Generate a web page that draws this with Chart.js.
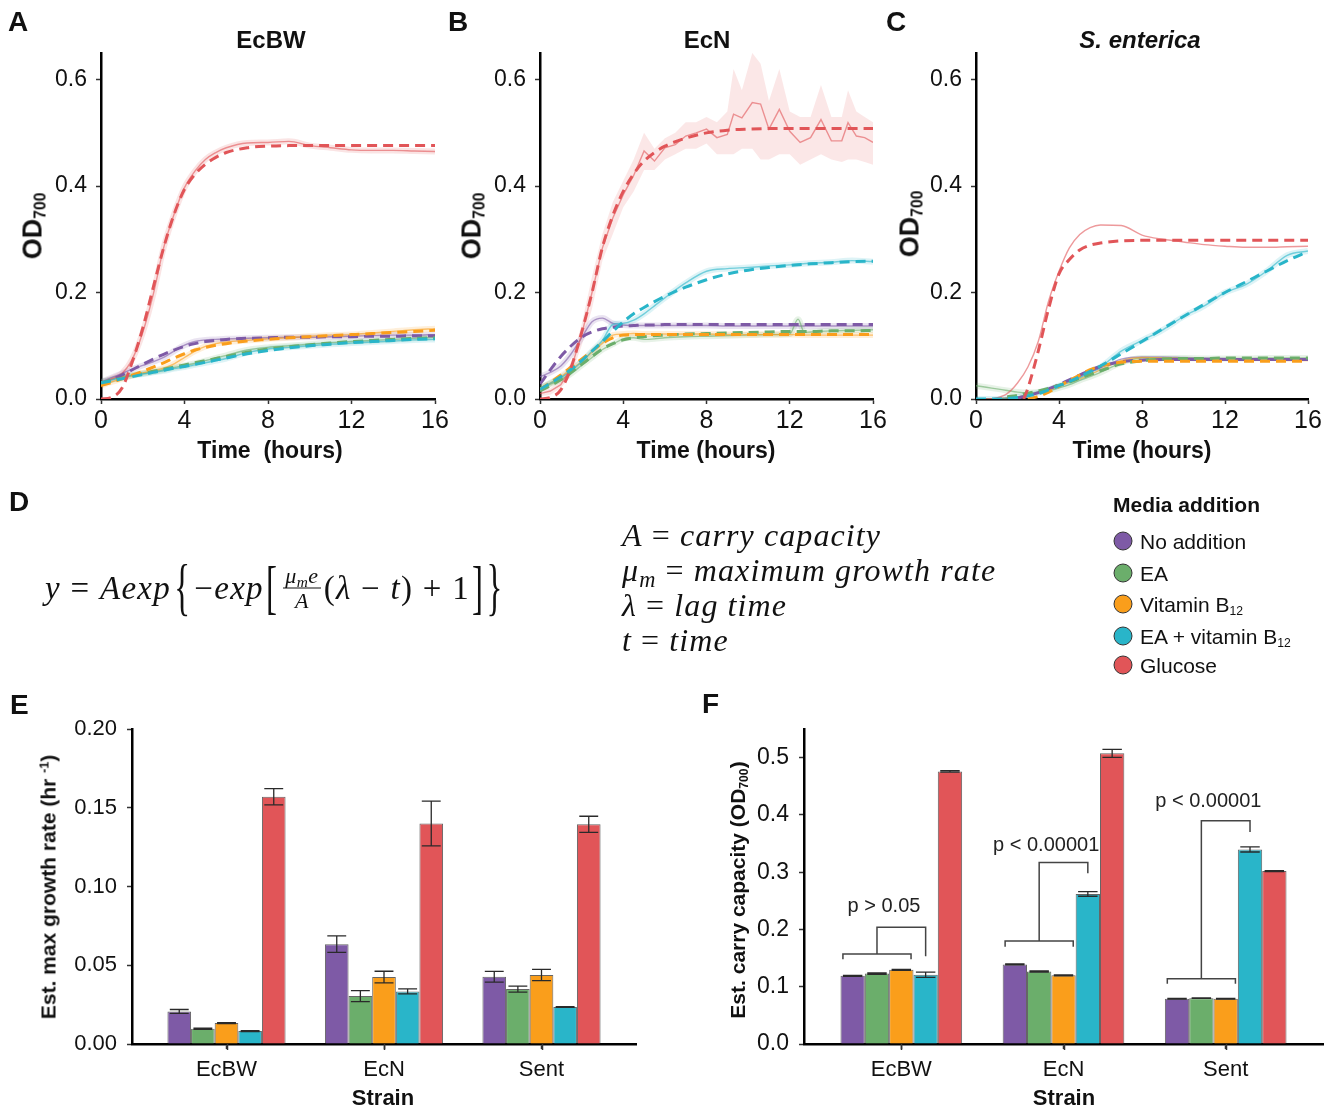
<!DOCTYPE html>
<html>
<head>
<meta charset="utf-8">
<script src="https://cdn.jsdelivr.net/npm/chart.js@4.4.1/dist/chart.umd.min.js"></script>
<style>
  html, body { margin: 0; padding: 0; background: #fff; }
  #page { position: relative; width: 1340px; height: 1110px; overflow: hidden;
          font-family: 'Liberation Sans', Arial, sans-serif; color: #111; }
  canvas.layer { position: absolute; left: 0; top: 0; }
  .t { position: absolute; line-height: 1; white-space: pre; transform: translate(-50%, -50%); }
  .l { position: absolute; line-height: 1; white-space: pre; transform: translate(0, -50%); }
  .rot { position: absolute; line-height: 1; white-space: pre; transform: translate(-50%, -50%) rotate(-90deg); }
  .b { font-weight: bold; }
  .letter { font-weight: bold; font-size: 28px; }
  .sub { font-size: 0.58em; position: relative; top: 0.28em; }
  .sup { font-size: 0.6em; position: relative; top: -0.55em; }
  .dot { position: absolute; width: 17px; height: 17px; border-radius: 50%; border: 1.5px solid #333;
         transform: translate(-50%, -50%); }
  .math { position: absolute; line-height: 1; white-space: pre; font-family: 'Liberation Serif', serif;
          font-size: 32px; transform: translate(0, -50%); letter-spacing: 1.1px; }
  .math i { font-style: italic; }
  #eq { display: flex; align-items: center; font-size: 33px; letter-spacing: 1.3px; }
  .br { display: inline-block; font-style: normal; }
  .frac { display: inline-flex; flex-direction: column; align-items: center; font-size: 22px; margin: 0 3px; letter-spacing: 0.5px; }
  .frac .num { border-bottom: 1.2px solid #111; padding: 0 2px 1px; }
  .frac .den { padding-top: 1px; }
</style>
</head>
<body>
<div id="page">
  <canvas id="chartA" class="layer" width="1340" height="1110"></canvas>
  <canvas id="chartB" class="layer" width="1340" height="1110"></canvas>
  <canvas id="chartC" class="layer" width="1340" height="1110"></canvas>
  <canvas id="chartE" class="layer" width="1340" height="1110"></canvas>
  <canvas id="chartF" class="layer" width="1340" height="1110"></canvas>

  <!-- panel letters -->
  <div class="l letter" style="left:8px;top:22px">A</div>
  <div class="l letter" style="left:448px;top:22px">B</div>
  <div class="l letter" style="left:886px;top:22px">C</div>
  <div class="l letter" style="left:9px;top:502px">D</div>
  <div class="l letter" style="left:10px;top:705px">E</div>
  <div class="l letter" style="left:702px;top:704px">F</div>

  <!-- growth curve titles -->
  <div class="t b" style="left:271px;top:40px;font-size:24px">EcBW</div>
  <div class="t b" style="left:707px;top:40px;font-size:24px">EcN</div>
  <div class="t b" style="left:1140px;top:40px;font-size:24px;font-style:italic">S. enterica</div>

  <div class="t b" style="left:270px;top:450px;font-size:23px">Time  (hours)</div>
  <div class="t b" style="left:706px;top:450px;font-size:23px">Time (hours)</div>
  <div class="t b" style="left:1142px;top:450px;font-size:23px">Time (hours)</div>

  <div class="rot b" style="left:33px;top:226px;font-size:27px">OD<span class="sub">700</span></div>
  <div class="rot b" style="left:472px;top:226px;font-size:27px">OD<span class="sub">700</span></div>
  <div class="rot b" style="left:910px;top:224px;font-size:27px">OD<span class="sub">700</span></div>

  <!-- D: model -->
  <div id="eq" class="math" style="left:45px;top:588px">
    <i>y</i><span> = </span><i>Aexp</i><span class="br" style="transform:scaleY(1.9);margin:0 3px">{</span><span>−</span><i>exp</i><span class="br" style="transform:scaleY(1.8);margin:0 2px">[</span><span class="frac"><span class="num"><i>μ<span style="font-size:0.7em;position:relative;top:0.25em">m</span>e</i></span><span class="den"><i>A</i></span></span><span>(</span><i>λ</i><span> − </span><i>t</i><span>) + 1</span><span class="br" style="transform:scaleY(1.8);margin:0 2px">]</span><span class="br" style="transform:scaleY(1.9)">}</span>
  </div>
  <div class="math" style="left:622px;top:535px"><i>A</i> = <i>carry capacity</i></div>
  <div class="math" style="left:622px;top:570px"><i>μ<span style="font-size:0.7em;position:relative;top:0.25em">m</span></i> = <i>maximum growth rate</i></div>
  <div class="math" style="left:622px;top:605px"><i>λ</i> = <i>lag time</i></div>
  <div class="math" style="left:622px;top:640px"><i>t</i> = <i>time</i></div>

  <!-- legend -->
  <div class="l b" style="left:1113px;top:504px;font-size:21px">Media addition</div>
  <div id="legend"></div>

  <!-- bar chart axis titles -->
  <div class="t b" style="left:383px;top:1098px;font-size:22px">Strain</div>
  <div class="t b" style="left:1064px;top:1098px;font-size:22px">Strain</div>
  <div class="rot b" style="left:48px;top:887px;font-size:21px">Est. max growth rate (hr <span class="sup">-1</span>)</div>
  <div class="rot b" style="left:737px;top:890px;font-size:21px">Est. carry capacity (OD<span class="sub">700</span>)</div>
</div>

<script>
var FONT = 'Liberation Sans';

// media additions, legend order
var mediaNames = ['No addition', 'EA', 'Vitamin B<span class="sub">12</span>', 'EA + vitamin B<span class="sub">12</span>', 'Glucose'];
var mediaColors = ['#7E5AA6', '#6BAE6B', '#FA9E1B', '#29B5C9', '#E15558'];
var strains = ['EcBW', 'EcN', 'Sent'];

// common time grid (hours)
var T = [0, 0.5, 1, 1.5, 2, 2.5, 3, 3.5, 4, 4.5, 5, 5.5, 6, 7, 8, 9, 10, 11, 12, 13, 14, 15, 16];

// ---- A: EcBW (measured / fitted)
var aNoAdd    = [0.032, 0.04, 0.048, 0.056, 0.063, 0.07, 0.078, 0.09, 0.101, 0.108, 0.111, 0.112, 0.113, 0.114, 0.115, 0.116, 0.116, 0.117, 0.118, 0.119, 0.12, 0.12, 0.121];
var aNoAddFit = [0.028, 0.036, 0.045, 0.055, 0.065, 0.075, 0.084, 0.092, 0.099, 0.104, 0.108, 0.11, 0.112, 0.114, 0.115, 0.116, 0.116, 0.117, 0.117, 0.118, 0.118, 0.119, 0.119];
var aEA       = [0.032, 0.037, 0.042, 0.045, 0.048, 0.051, 0.055, 0.059, 0.063, 0.067, 0.072, 0.077, 0.082, 0.092, 0.097, 0.1, 0.103, 0.106, 0.108, 0.11, 0.112, 0.114, 0.116];
var aEAFit    = [0.03, 0.035, 0.039, 0.044, 0.048, 0.052, 0.056, 0.06, 0.064, 0.068, 0.072, 0.076, 0.08, 0.088, 0.094, 0.098, 0.102, 0.105, 0.108, 0.11, 0.112, 0.114, 0.115];
var aB12      = [0.025, 0.032, 0.038, 0.044, 0.049, 0.053, 0.058, 0.066, 0.078, 0.09, 0.099, 0.104, 0.107, 0.11, 0.113, 0.115, 0.118, 0.12, 0.121, 0.124, 0.127, 0.13, 0.132];
var aB12Fit   = [0.025, 0.031, 0.038, 0.045, 0.052, 0.06, 0.068, 0.077, 0.085, 0.092, 0.097, 0.101, 0.104, 0.109, 0.112, 0.115, 0.117, 0.119, 0.121, 0.123, 0.125, 0.127, 0.129];
var aEAB12    = [0.032, 0.036, 0.04, 0.044, 0.047, 0.05, 0.053, 0.057, 0.06, 0.064, 0.068, 0.072, 0.076, 0.087, 0.094, 0.097, 0.1, 0.103, 0.105, 0.107, 0.109, 0.111, 0.112];
var aEAB12Fit = [0.03, 0.034, 0.038, 0.042, 0.046, 0.05, 0.054, 0.058, 0.061, 0.065, 0.069, 0.073, 0.077, 0.085, 0.091, 0.096, 0.1, 0.103, 0.106, 0.108, 0.11, 0.112, 0.113];
var aGlu      = [0.03, 0.038, 0.048, 0.075, 0.125, 0.196, 0.284, 0.347, 0.397, 0.428, 0.45, 0.463, 0.472, 0.481, 0.482, 0.484, 0.476, 0.472, 0.468, 0.467, 0.467, 0.466, 0.465];
var aGluFit   = [0, 0.003, 0.02, 0.07, 0.133, 0.209, 0.284, 0.347, 0.394, 0.422, 0.441, 0.454, 0.463, 0.472, 0.475, 0.476, 0.476, 0.476, 0.476, 0.476, 0.476, 0.476, 0.476];

// ---- B: EcN
var bNoAdd    = [0.042, 0.05, 0.062, 0.085, 0.115, 0.145, 0.152, 0.142, 0.139, 0.138, 0.138, 0.138, 0.138, 0.138, 0.138, 0.137, 0.137, 0.137, 0.137, 0.137, 0.137, 0.137, 0.137];
var bNoAddFit = [0.028, 0.055, 0.08, 0.1, 0.116, 0.126, 0.132, 0.135, 0.137, 0.138, 0.139, 0.139, 0.14, 0.14, 0.14, 0.14, 0.14, 0.14, 0.14, 0.14, 0.14, 0.14, 0.14];
var tBEA      = [0, 0.5, 1, 1.5, 2, 2.5, 3, 3.5, 4, 4.5, 5, 5.5, 6, 7, 8, 9, 10, 11, 12, 12.4, 12.7, 13, 14, 15, 16];
var bEA       = [0.02, 0.028, 0.036, 0.048, 0.063, 0.078, 0.093, 0.103, 0.113, 0.115, 0.112, 0.113, 0.115, 0.117, 0.118, 0.119, 0.12, 0.121, 0.122, 0.15, 0.125, 0.126, 0.128, 0.129, 0.13];
var bEAFit    = [0.015, 0.025, 0.036, 0.05, 0.065, 0.08, 0.094, 0.104, 0.111, 0.115, 0.117, 0.119, 0.12, 0.122, 0.123, 0.124, 0.125, 0.126, 0.127, 0.127, 0.128, 0.128, 0.129];
var bB12      = [0.02, 0.03, 0.042, 0.056, 0.07, 0.088, 0.105, 0.12, 0.122, 0.123, 0.122, 0.122, 0.122, 0.122, 0.122, 0.121, 0.121, 0.121, 0.121, 0.12, 0.12, 0.12, 0.12];
var bB12Fit   = [0.018, 0.031, 0.045, 0.06, 0.075, 0.09, 0.105, 0.115, 0.12, 0.121, 0.121, 0.121, 0.121, 0.121, 0.121, 0.121, 0.121, 0.121, 0.121, 0.121, 0.121, 0.121, 0.121];
var bEAB12    = [0.02, 0.03, 0.04, 0.053, 0.07, 0.09, 0.11, 0.14, 0.142, 0.148, 0.16, 0.175, 0.19, 0.218, 0.24, 0.245, 0.247, 0.25, 0.252, 0.255, 0.257, 0.26, 0.258];
var bEAB12Fit = [0.018, 0.03, 0.042, 0.056, 0.072, 0.09, 0.108, 0.127, 0.145, 0.16, 0.172, 0.183, 0.193, 0.21, 0.224, 0.235, 0.242, 0.247, 0.251, 0.254, 0.256, 0.258, 0.259];
var tBGlu     = [0, 0.5, 1, 1.5, 2, 2.5, 3, 3.5, 4, 4.5, 5, 5.5, 6, 6.5, 7, 7.5, 8, 8.5, 9, 9.3, 9.7, 10.2, 10.6, 11, 11.5, 12, 12.5, 13, 13.5, 14, 14.5, 14.8, 15.2, 15.6, 16];
var bGlu      = [0.01, 0.015, 0.027, 0.058, 0.121, 0.2, 0.284, 0.34, 0.384, 0.42, 0.466, 0.447, 0.472, 0.478, 0.494, 0.5, 0.507, 0.491, 0.497, 0.535, 0.528, 0.557, 0.554, 0.507, 0.544, 0.503, 0.482, 0.491, 0.525, 0.485, 0.485, 0.519, 0.494, 0.491, 0.482];
var bGluHigh  = [0.015, 0.02, 0.035, 0.07, 0.14, 0.23, 0.31, 0.37, 0.41, 0.45, 0.5, 0.47, 0.49, 0.5, 0.52, 0.52, 0.53, 0.52, 0.54, 0.62, 0.58, 0.65, 0.63, 0.56, 0.62, 0.54, 0.53, 0.53, 0.59, 0.53, 0.53, 0.58, 0.54, 0.53, 0.52];
var bGluLow   = [0.005, 0.008, 0.02, 0.045, 0.1, 0.17, 0.26, 0.31, 0.36, 0.39, 0.43, 0.43, 0.45, 0.46, 0.47, 0.47, 0.48, 0.46, 0.46, 0.46, 0.47, 0.47, 0.45, 0.45, 0.46, 0.46, 0.44, 0.45, 0.46, 0.45, 0.445, 0.45, 0.45, 0.445, 0.44];
var bGluFit   = [0, 0.003, 0.017, 0.06, 0.125, 0.2, 0.285, 0.345, 0.39, 0.423, 0.447, 0.463, 0.475, 0.49, 0.5, 0.505, 0.507, 0.508, 0.508, 0.508, 0.508, 0.508, 0.508];

// ---- C: S. enterica
var cNoAdd    = [0, 0, 0.001, 0.002, 0.004, 0.007, 0.012, 0.018, 0.026, 0.034, 0.042, 0.05, 0.058, 0.075, 0.079, 0.079, 0.078, 0.077, 0.076, 0.075, 0.075, 0.074, 0.074];
var cNoAddFit = [null, null, null, null, 0.002, 0.006, 0.012, 0.019, 0.027, 0.036, 0.045, 0.054, 0.061, 0.07, 0.073, 0.074, 0.074, 0.074, 0.074, 0.074, 0.074, 0.074, 0.074];
var cEA       = [0.025, 0.022, 0.019, 0.016, 0.013, 0.012, 0.013, 0.016, 0.021, 0.027, 0.035, 0.042, 0.05, 0.068, 0.077, 0.077, 0.077, 0.076, 0.076, 0.076, 0.077, 0.077, 0.077];
var cEAFit    = [null, null, null, 0.004, 0.007, 0.011, 0.015, 0.02, 0.026, 0.032, 0.039, 0.046, 0.053, 0.066, 0.072, 0.075, 0.076, 0.076, 0.077, 0.077, 0.077, 0.077, 0.077];
var cB12      = [0, 0, 0.001, 0.002, 0.004, 0.007, 0.012, 0.017, 0.024, 0.031, 0.038, 0.046, 0.055, 0.072, 0.078, 0.077, 0.076, 0.075, 0.074, 0.073, 0.073, 0.072, 0.072];
var cB12Fit   = [null, null, null, null, null, 0, 0.005, 0.013, 0.024, 0.035, 0.045, 0.055, 0.062, 0.069, 0.071, 0.071, 0.071, 0.071, 0.071, 0.071, 0.071, 0.071, 0.071];
var cEAB12    = [0, 0, 0, 0.002, 0.004, 0.007, 0.012, 0.018, 0.025, 0.032, 0.04, 0.05, 0.06, 0.09, 0.11, 0.13, 0.155, 0.175, 0.2, 0.215, 0.24, 0.27, 0.278];
var cEAB12Fit = [0, 0, 0, 0.001, 0.003, 0.006, 0.01, 0.017, 0.025, 0.033, 0.042, 0.052, 0.062, 0.085, 0.108, 0.132, 0.155, 0.178, 0.2, 0.22, 0.24, 0.26, 0.277];
var cGlu      = [0, 0, 0.002, 0.01, 0.03, 0.06, 0.108, 0.184, 0.24, 0.284, 0.309, 0.322, 0.327, 0.326, 0.308, 0.3, 0.295, 0.29, 0.287, 0.285, 0.285, 0.286, 0.287];
var tCGluFit  = [2.3, 2.5, 3, 3.5, 4, 4.5, 5, 5.5, 6, 7, 8, 10, 12, 14, 16];
var cGluFit   = [0, 0.02, 0.09, 0.17, 0.235, 0.262, 0.28, 0.289, 0.293, 0.297, 0.298, 0.298, 0.298, 0.298, 0.298];

// ---- E: estimated max growth rate, per strain [EcBW, EcN, Sent]
var rateNoAdd = [0.0207, 0.0634, 0.0427], rateNoAddErr = [0.0012, 0.0052, 0.0034];
var rateEA    = [0.0097, 0.0304, 0.0349], rateEAErr    = [0.0004, 0.0035, 0.0019];
var rateB12   = [0.0133, 0.0425, 0.0438], rateB12Err   = [0.0003, 0.0037, 0.0036];
var rateEAB12 = [0.0082, 0.0334, 0.0235], rateEAB12Err = [0.0003, 0.0016, 0.0002];
var rateGlu   = [0.157, 0.140, 0.1395],   rateGluErr   = [0.0052, 0.0142, 0.0051];

// ---- F: estimated carry capacity
var capNoAdd = [0.119, 0.139, 0.079],  capNoAddErr = [0.0008, 0.0008, 0.0005];
var capEA    = [0.123, 0.1266, 0.080], capEAErr    = [0.0012, 0.0012, 0.0005];
var capB12   = [0.1295, 0.120, 0.079], capB12Err   = [0.0008, 0.0008, 0.0005];
var capEAB12 = [0.121, 0.262, 0.3397], capEAB12Err = [0.0045, 0.004, 0.0045];
var capGlu   = [0.476, 0.5075, 0.302], capGluErr   = [0.0012, 0.007, 0.0008];

// significance brackets in F (data units)
var pLabels      = ['p > 0.05', 'p < 0.00001', 'p < 0.00001'];
var bracketBase  = [0.157, 0.18, 0.114];
var bracketFoot  = [0.148, 0.17, 0.105];
var bracketTop   = [0.204, 0.317, 0.39];
var bracketDrop  = [0.153, 0.298, 0.37];
var pLabelLevel  = [0.24, 0.347, 0.423];

// legend
var legend = document.getElementById('legend');
var legendY = [541, 573, 604, 636, 665];
mediaNames.forEach(function (name, i) {
  var d = document.createElement('div');
  d.className = 'dot';
  d.style.left = '1123px';
  d.style.top = legendY[i] + 'px';
  d.style.background = mediaColors[i];
  legend.appendChild(d);
  var s = document.createElement('div');
  s.className = 'l';
  s.style.left = '1140px';
  s.style.top = legendY[i] + 'px';
  s.style.fontSize = '21px';
  s.innerHTML = name;
  legend.appendChild(s);
});

function rgba(hex, a) {
  var n = parseInt(hex.slice(1), 16);
  return 'rgba(' + (n >> 16) + ',' + ((n >> 8) & 255) + ',' + (n & 255) + ',' + a + ')';
}
function pts(t, v) {
  return t.map(function (x, i) { return { x: x, y: v[i] }; });
}
function fitSet(t, v, c) {
  return { data: pts(t, v), borderColor: c, borderWidth: 3, borderDash: [10, 6], fill: false };
}
function dataSet(t, v, c) {
  return { data: pts(t, v), borderColor: rgba(c, 0.6), borderWidth: 1.4, fill: false };
}
function haloSet(t, v, c) {
  return { data: pts(t, v), borderColor: rgba(c, 0.16), borderWidth: 6, fill: false };
}

function axisStyle() {
  return {
    grid: { drawOnChartArea: false, offset: false, tickLength: 5, tickColor: '#333', tickWidth: 1.5 },
    border: { color: '#000', width: 2.5 }
  };
}

function lineChart(id, left, right, datasets) {
  return new Chart(document.getElementById(id), {
    type: 'line',
    data: { datasets: datasets },
    options: {
      responsive: false,
      animation: false,
      layout: { padding: { left: left - 60, right: 1340 - right, top: 53, bottom: 1110 - 399 - 40 } },
      plugins: { legend: { display: false }, tooltip: { enabled: false } },
      elements: { point: { radius: 0 }, line: { cubicInterpolationMode: 'monotone' } },
      scales: {
        x: Object.assign({
          type: 'linear', min: 0, max: 16,
          afterFit: function (s) { s.height = 40; },
          ticks: { stepSize: 4, includeBounds: false, maxRotation: 0, padding: 2, color: '#111',
                   font: { family: FONT, size: 25 } }
        }, axisStyle()),
        y: Object.assign({
          min: 0, max: 0.65,
          afterFit: function (s) { s.width = 60; },
          ticks: { stepSize: 0.2, includeBounds: false, padding: 9, color: '#111',
                   font: { family: FONT, size: 23 },
                   callback: function (v) { return v.toFixed(1); } }
        }, axisStyle())
      }
    }
  });
}

// A
lineChart('chartA', 101, 435, [
  fitSet(T, aGluFit, mediaColors[4]), fitSet(T, aEAB12Fit, mediaColors[3]), fitSet(T, aB12Fit, mediaColors[2]),
  fitSet(T, aEAFit, mediaColors[1]), fitSet(T, aNoAddFit, mediaColors[0]),
  dataSet(T, aGlu, mediaColors[4]), dataSet(T, aEAB12, mediaColors[3]), dataSet(T, aB12, mediaColors[2]),
  dataSet(T, aEA, mediaColors[1]), dataSet(T, aNoAdd, mediaColors[0]),
  haloSet(T, aGlu, mediaColors[4]), haloSet(T, aEAB12, mediaColors[3]), haloSet(T, aB12, mediaColors[2]),
  haloSet(T, aEA, mediaColors[1]), haloSet(T, aNoAdd, mediaColors[0])
]);

// B
var bGluLine = dataSet(tBGlu, bGlu, mediaColors[4]);
bGluLine.cubicInterpolationMode = 'default';
bGluLine.tension = 0;
lineChart('chartB', 540, 873, [
  fitSet(T, bGluFit, mediaColors[4]), fitSet(T, bEAB12Fit, mediaColors[3]), fitSet(T, bB12Fit, mediaColors[2]),
  fitSet(T, bEAFit, mediaColors[1]), fitSet(T, bNoAddFit, mediaColors[0]),
  bGluLine, dataSet(T, bEAB12, mediaColors[3]), dataSet(T, bB12, mediaColors[2]),
  dataSet(tBEA, bEA, mediaColors[1]), dataSet(T, bNoAdd, mediaColors[0]),
  haloSet(T, bEAB12, mediaColors[3]), haloSet(T, bB12, mediaColors[2]),
  haloSet(tBEA, bEA, mediaColors[1]), haloSet(T, bNoAdd, mediaColors[0]),
  { data: pts(tBGlu, bGluHigh), borderWidth: 0, borderColor: 'rgba(0,0,0,0)', tension: 0,
    cubicInterpolationMode: 'default', fill: '+1', backgroundColor: rgba(mediaColors[4], 0.14) },
  { data: pts(tBGlu, bGluLow), borderWidth: 0, borderColor: 'rgba(0,0,0,0)', tension: 0,
    cubicInterpolationMode: 'default', fill: false }
]);

// C
lineChart('chartC', 976, 1308, [
  fitSet(tCGluFit, cGluFit, mediaColors[4]), fitSet(T, cEAB12Fit, mediaColors[3]), fitSet(T, cB12Fit, mediaColors[2]),
  fitSet(T, cEAFit, mediaColors[1]), fitSet(T, cNoAddFit, mediaColors[0]),
  dataSet(T, cGlu, mediaColors[4]), dataSet(T, cEAB12, mediaColors[3]), dataSet(T, cB12, mediaColors[2]),
  dataSet(T, cEA, mediaColors[1]), dataSet(T, cNoAdd, mediaColors[0]),
  haloSet(T, cEAB12, mediaColors[3]), haloSet(T, cEA, mediaColors[1])
]);

// outward tick marks under each strain
var strainTickPlugin = {
  id: 'strainTicks',
  afterDraw: function (chart) {
    var ctx = chart.ctx, x = chart.scales.x, base = chart.chartArea.bottom;
    ctx.save();
    ctx.strokeStyle = '#333';
    ctx.lineWidth = 1.5;
    strains.forEach(function (s, i) {
      var px = Math.round(x.getPixelForValue(i + 1)) + 0.5;
      ctx.beginPath();
      ctx.moveTo(px, base);
      ctx.lineTo(px, base + 6);
      ctx.stroke();
    });
    ctx.restore();
  }
};

// error bars drawn from the bar elements
var errorBarPlugin = {
  id: 'errorBars',
  afterDatasetsDraw: function (chart) {
    var ctx = chart.ctx, y = chart.scales.y;
    ctx.save();
    ctx.strokeStyle = '#2a2a2a';
    ctx.lineWidth = 1.3;
    chart.data.datasets.forEach(function (ds, di) {
      var meta = chart.getDatasetMeta(di);
      meta.data.forEach(function (bar, i) {
        var v = ds.data[i].y, e = ds.errors[i];
        var top = y.getPixelForValue(v + e), bot = y.getPixelForValue(v - e);
        var half = bar.width * 0.4;
        ctx.beginPath();
        ctx.moveTo(bar.x, top); ctx.lineTo(bar.x, bot);
        ctx.moveTo(bar.x - half, top); ctx.lineTo(bar.x + half, top);
        ctx.moveTo(bar.x - half, bot); ctx.lineTo(bar.x + half, bot);
        ctx.stroke();
      });
    });
    ctx.restore();
  }
};

var bracketPlugin = {
  id: 'brackets',
  afterDatasetsDraw: function (chart) {
    var ctx = chart.ctx, y = chart.scales.y;
    var m0 = chart.getDatasetMeta(0), m1 = chart.getDatasetMeta(1), m2 = chart.getDatasetMeta(2), m3 = chart.getDatasetMeta(3);
    ctx.save();
    ctx.strokeStyle = '#444';
    ctx.lineWidth = 1.5;
    pLabels.forEach(function (lab, i) {
      var x0 = m0.data[i].x - m0.data[i].width * 0.4;
      var x2 = m2.data[i].x + m2.data[i].width * 0.4;
      var xm = m1.data[i].x, xc = m3.data[i].x;
      var yb = y.getPixelForValue(bracketBase[i]), yf = y.getPixelForValue(bracketFoot[i]);
      var yt = y.getPixelForValue(bracketTop[i]), yd = y.getPixelForValue(bracketDrop[i]);
      ctx.beginPath();
      ctx.moveTo(x0, yf); ctx.lineTo(x0, yb); ctx.lineTo(x2, yb); ctx.lineTo(x2, yf);
      ctx.moveTo(xm, yb); ctx.lineTo(xm, yt); ctx.lineTo(xc, yt); ctx.lineTo(xc, yd);
      ctx.stroke();
      ctx.fillStyle = '#222';
      ctx.font = '20px "' + FONT + '"';
      ctx.textAlign = 'center';
      ctx.textBaseline = 'middle';
      ctx.fillText(lab, xm + 7, y.getPixelForValue(pLabelLevel[i]));
    });
    ctx.restore();
  }
};

function barSet(vals, errs, i) {
  return {
    data: vals.map(function (v, k) { return { x: k + 1, y: v }; }),
    errors: errs,
    backgroundColor: mediaColors[i],
    borderColor: 'rgba(50,50,50,0.75)',
    borderWidth: 1,
    categoryPercentage: 0.75,
    barPercentage: 1
  };
}

function barChart(id, left, right, ymax, step, dec, tickSize, datasets, extra) {
  return new Chart(document.getElementById(id), {
    type: 'bar',
    data: { datasets: datasets },
    plugins: extra,
    options: {
      responsive: false,
      animation: false,
      layout: { padding: { left: left - 60, right: 1340 - right, top: 729, bottom: 1110 - 1044 - 40 } },
      plugins: { legend: { display: false }, tooltip: { enabled: false } },
      scales: {
        x: Object.assign({
          type: 'linear', min: 0.4, max: 3.6, offset: false,
          afterFit: function (s) { s.height = 40; },
          afterBuildTicks: function (s) { s.ticks = [1, 2, 3].map(function (v) { return { value: v }; }); },
          ticks: { padding: 8, color: '#111', maxRotation: 0, font: { family: FONT, size: 22 },
                   callback: function (v) { return strains[Math.round(v) - 1]; } }
        }, axisStyle()),
        y: Object.assign({
          min: 0, max: ymax,
          afterFit: function (s) { s.width = 60; },
          ticks: { stepSize: step, includeBounds: false, padding: 10, color: '#111',
                   font: { family: FONT, size: tickSize },
                   callback: function (v) { return v.toFixed(dec); } }
        }, axisStyle())
      }
    }
  });
}

barChart('chartE', 132, 636, 0.2, 0.05, 2, 22, [
  barSet(rateNoAdd, rateNoAddErr, 0), barSet(rateEA, rateEAErr, 1), barSet(rateB12, rateB12Err, 2),
  barSet(rateEAB12, rateEAB12Err, 3), barSet(rateGlu, rateGluErr, 4)
], [errorBarPlugin, strainTickPlugin]);

barChart('chartF', 804, 1323, 0.55, 0.1, 1, 23, [
  barSet(capNoAdd, capNoAddErr, 0), barSet(capEA, capEAErr, 1), barSet(capB12, capB12Err, 2),
  barSet(capEAB12, capEAB12Err, 3), barSet(capGlu, capGluErr, 4)
], [errorBarPlugin, bracketPlugin, strainTickPlugin]);
</script>
</body>
</html>
